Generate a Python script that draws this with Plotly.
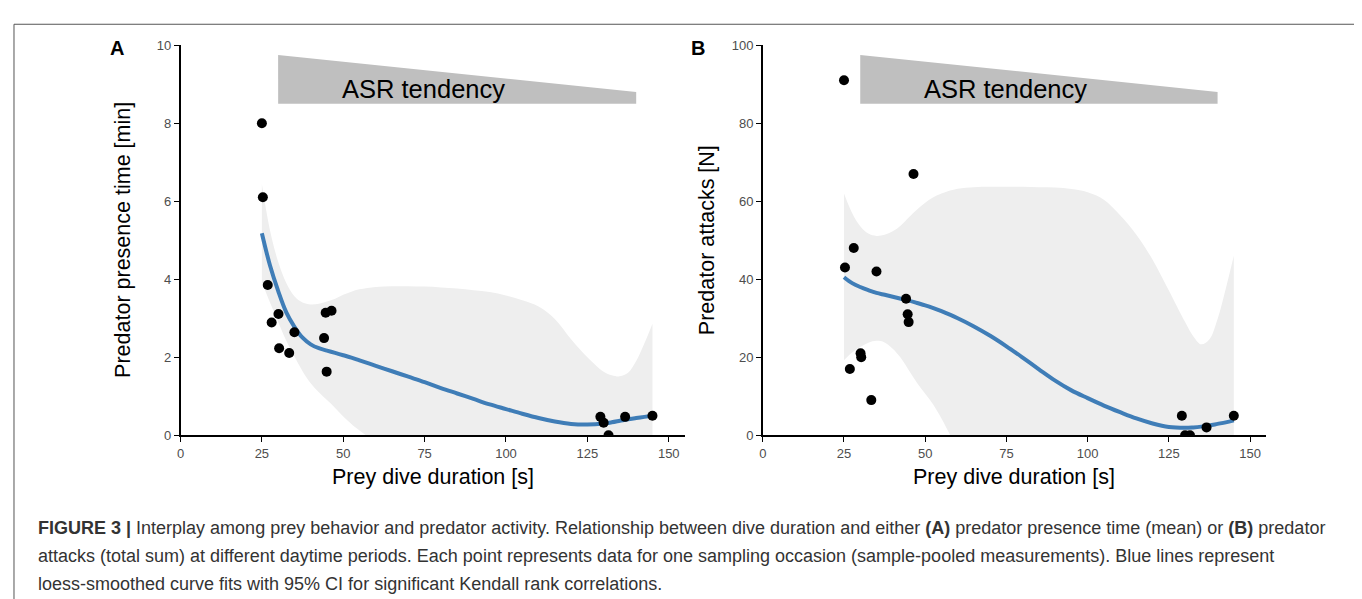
import plotly.graph_objects as go

# ---------------- data ----------------
dive = [25.0, 25.3, 26.8, 28.0, 30.1, 30.3, 33.4, 35.0, 44.1, 44.6, 44.9, 46.4,
        129.0, 130.0, 131.5, 136.6, 145.0]
presence = [8.0, 6.1, 3.85, 2.89, 3.11, 2.23, 2.11, 2.64, 2.49, 3.14, 1.63, 3.19,
            0.47, 0.32, 0.0, 0.47, 0.50]
attacks = [91, 43, 17, 48, 21, 20, 9, 42, 35, 31, 29, 67,
           5, 0, 0, 2, 5]

fit_x = [25, 27.5, 30, 32.5, 35, 37.5, 40, 42.5, 45, 47.5, 50, 52.5, 55, 60, 65, 70, 75,
         80, 85, 90, 95, 100, 105, 110, 115, 120, 125, 130, 132.5, 135, 137.5, 140, 142.5, 145]

fitA = [5.18, 4.35, 3.70, 3.15, 2.78, 2.50, 2.33, 2.23, 2.17, 2.11, 2.05, 1.99, 1.92, 1.78,
        1.64, 1.50, 1.36, 1.21, 1.07, 0.93, 0.79, 0.67, 0.55, 0.44, 0.35, 0.29, 0.275, 0.30,
        0.33, 0.37, 0.41, 0.44, 0.47, 0.50]
upA = [6.44, 5.25, 4.45, 3.90, 3.56, 3.40, 3.35, 3.37, 3.43, 3.50, 3.60, 3.68, 3.74, 3.80,
       3.82, 3.82, 3.81, 3.79, 3.76, 3.72, 3.67, 3.58, 3.46, 3.30, 2.98, 2.46, 2.00, 1.63,
       1.54, 1.51, 1.60, 1.90, 2.35, 2.86]
loA = [3.92, 3.40, 2.90, 2.42, 2.02, 1.64, 1.33, 1.10, 0.90, 0.70, 0.48, 0.29, 0.12, -0.20,
       -0.55, -0.82, -1.10, -1.37, -1.62, -1.86, -2.08, -2.25, -2.36, -2.42, -2.30, -1.90,
       -1.45, -1.03, -0.88, -0.77, -0.78, -1.02, -1.40, -1.86]

fitB = [40.5, 39.0, 38.0, 37.2, 36.5, 36.0, 35.5, 35.0, 34.5, 33.9, 33.3, 32.6, 31.8, 30.0,
        27.9, 25.5, 22.8, 19.9, 16.9, 14.0, 11.5, 9.5, 7.6, 5.9, 4.3, 3.0, 2.1, 1.9, 2.0,
        2.2, 2.5, 2.9, 3.3, 3.8]
upB = [62.0, 57.0, 53.6, 51.7, 51.1, 51.4, 52.3, 53.8, 55.9, 57.9, 59.6, 61.0, 62.0, 63.2,
       63.6, 63.7, 63.7, 63.7, 63.6, 63.5, 63.1, 62.3, 60.4, 56.4, 51.4, 45.0, 37.1, 29.0,
       25.4, 23.3, 24.6, 29.8, 37.5, 46.0]
loB = [19.2, 21.2, 22.6, 23.7, 24.2, 23.8, 22.2, 19.8, 16.6, 13.4, 10.6, 7.8, 4.3, -3.2,
       -7.8, -12.7, -18.1, -23.9, -29.8, -35.5, -40.1, -43.3, -45.2, -44.6, -42.8, -39.0,
       -32.9, -25.2, -21.4, -18.9, -19.6, -24.0, -30.9, -38.4]

asr_x = [30, 140, 140, 30]
asrA_y = [9.75, 8.8, 8.5, 8.5]
asrB_y = [97.5, 88, 85, 85]

x_ticks = [0, 25, 50, 75, 100, 125, 150]
yA_ticks = [0, 2, 4, 6, 8, 10]
yB_ticks = [0, 20, 40, 60, 80, 100]

# ---------------- figure ----------------
W, H = 1362, 599
FONT = "Liberation Sans, Arial, sans-serif"
BAND = "#eeeeee"
BLUE = "#3f7db7"

fig = go.Figure()

def add_panel(xa, ya, yvals, fit, up, lo, asr_y, asr_text_y):
    fig.add_trace(go.Scatter(x=fit_x, y=lo, mode="lines", line=dict(width=0, shape="spline"),
                             xaxis=xa, yaxis=ya, hoverinfo="skip"))
    fig.add_trace(go.Scatter(x=fit_x, y=up, mode="lines", line=dict(width=0, shape="spline"),
                             fill="tonexty", fillcolor=BAND, xaxis=xa, yaxis=ya, hoverinfo="skip"))
    fig.add_trace(go.Scatter(x=asr_x, y=asr_y, mode="lines", fill="toself", fillcolor="#bfbfbf",
                             line=dict(width=0), xaxis=xa, yaxis=ya, hoverinfo="skip"))
    fig.add_trace(go.Scatter(x=fit_x, y=fit, mode="lines",
                             line=dict(color=BLUE, width=4, shape="spline"),
                             xaxis=xa, yaxis=ya))
    fig.add_trace(go.Scatter(x=dive, y=yvals, mode="markers",
                             marker=dict(color="black", size=10),
                             xaxis=xa, yaxis=ya))
    fig.add_annotation(x=74.7, y=asr_text_y, xref=xa, yref=ya, text="ASR tendency",
                       showarrow=False, font=dict(family=FONT, size=25.5, color="black"))

add_panel("x", "y", presence, fitA, upA, loA, asrA_y, 8.87)
add_panel("x2", "y2", attacks, fitB, upB, loB, asrB_y, 88.75)

ax_common = dict(showline=True, linecolor="black", linewidth=1.5, ticks="outside",
                 ticklen=5, tickwidth=1.2, tickcolor="black", showgrid=False,
                 zeroline=False, tickfont=dict(family=FONT, size=13, color="#4d4d4d"))

ydom = [(H - 431) / H, (H - 31) / H]
fig.update_layout(
    width=W, height=H, margin=dict(l=0, r=0, t=0, b=0),
    paper_bgcolor="white", plot_bgcolor="white", showlegend=False,
    xaxis=dict(domain=[169 / W, 675 / W], range=[0, 155], tickvals=x_ticks, anchor="y", **ax_common),
    yaxis=dict(domain=ydom, range=[0, 10], tickvals=yA_ticks, anchor="x", **ax_common),
    xaxis2=dict(domain=[753 / W, 1258 / W], range=[0, 155], tickvals=x_ticks, anchor="y2", **ax_common),
    yaxis2=dict(domain=ydom, range=[0, 100], tickvals=yB_ticks, anchor="x2", **ax_common),
)

def px(xp, yp):
    return xp / W, (H - yp) / H

def ann(text, xp, yp, size, xanchor="center", angle=0, color="black"):
    x, y = px(xp, yp)
    fig.add_annotation(x=x, y=y, xref="paper", yref="paper", text=text, showarrow=False,
                       xanchor=xanchor, yanchor="middle", textangle=angle,
                       font=dict(family=FONT, size=size, color=color))

# axis titles
ann("Prey dive duration [s]", 422, 474, 21.5)
ann("Prey dive duration [s]", 1005, 474, 21.5)
ann("Predator presence time [min]", 112, 231, 21.5, angle=-90)
ann("Predator attacks [N]", 697, 231, 21.5, angle=-90)
# panel labels
ann("<b>A</b>", 105, 34, 20)
ann("<b>B</b>", 688, 34, 20)

# caption
cap = [
    "<b>FIGURE 3 |</b> Interplay among prey behavior and predator activity. Relationship between dive duration and either <b>(A)</b> predator presence time (mean) or <b>(B)</b> predator",
    "attacks (total sum) at different daytime periods. Each point represents data for one sampling occasion (sample-pooled measurements). Blue lines represent",
    "loess-smoothed curve fits with 95% CI for significant Kendall rank correlations.",
]
for i, line in enumerate(cap):
    ann(line, 24, 526 + 29 * i, 18, xanchor="left", color="#333333")

# frame
fig.add_shape(type="rect", xref="paper", yref="paper", x0=2 / W, x1=1359 / W,
              y0=-0.05, y1=(H - 9.5) / H, line=dict(color="#555555", width=1))

fig.write_html("out.html")
